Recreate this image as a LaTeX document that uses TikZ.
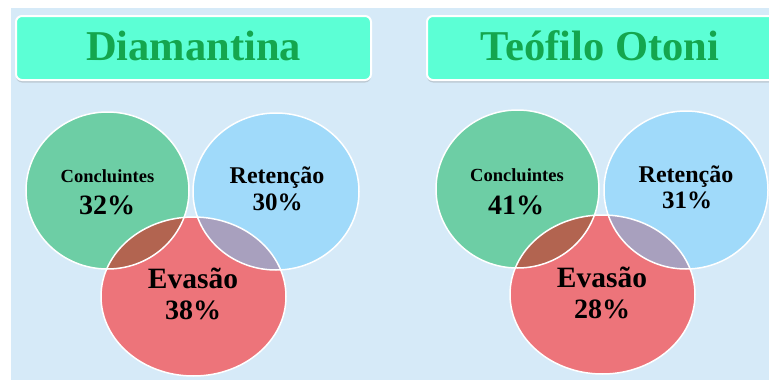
\documentclass[tikz,border=0pt]{standalone}
\usepackage{fontspec}
\setmainfont{Liberation Serif}
\usetikzlibrary{shadows}

\definecolor{pagebg}{RGB}{214,234,248}
\definecolor{titlefill}{RGB}{92,255,213}
\definecolor{titlegreen}{RGB}{20,166,78}
\definecolor{concgreen}{RGB}{109,206,165}
\definecolor{retblue}{RGB}{160,218,250}
\definecolor{evared}{RGB}{237,116,122}
\definecolor{lensbrown}{RGB}{178,100,80}
\definecolor{lenspurple}{RGB}{168,160,190}

\tikzset{
  titlebox/.style={draw=white, line width=2pt, fill=titlefill, rounded corners=6,
    drop shadow={shadow xshift=0pt, shadow yshift=-2.5pt, opacity=0.3}},
  titletext/.style={text=titlegreen, anchor=base, inner sep=0pt,
    font=\fontsize{42.5}{46}\selectfont\bfseries},
  ring/.style={draw=white, line width=1.5pt},
  conclab/.style={anchor=base, inner sep=0pt, font=\fontsize{18.5}{21}\selectfont\bfseries},
  retlab/.style={anchor=base, inner sep=0pt, font=\fontsize{24}{27}\selectfont\bfseries},
  evalab/.style={anchor=base, inner sep=0pt, font=\fontsize{29.5}{33}\selectfont\bfseries},
  pctlab/.style={anchor=base, inner sep=0pt, font=\fontsize{28}{31}\selectfont\bfseries},
  retpct/.style={anchor=base, inner sep=0pt, font=\fontsize{25}{28}\selectfont\bfseries}
}

\begin{document}
\begin{tikzpicture}[x=1pt, y=-1pt]
\useasboundingbox (0,0) rectangle (769,380);
\clip (0,0) rectangle (769,380);
\fill[pagebg] (11,8) rectangle (769,380);

% title boxes
\draw[titlebox] (16,16) rectangle (371,80);
\node[titletext] (titleDia) at (193.5,60) {Diamantina};
\draw[titlebox] (427,16) rectangle (775,80);
\node[titletext] (titleTeo) at (600,60) {Teófilo Otoni};

% Diamantina circles
\fill[concgreen] (107.5,190.5) ellipse (81.5 and 78.5);
\fill[retblue] (276,191.5) ellipse (83 and 78.5);
\fill[evared] (193.5,296.5) ellipse (92.5 and 79.5);
\begin{scope}
  \clip (193.5,296.5) ellipse (92.5 and 79.5);
  \fill[lensbrown] (107.5,190.5) ellipse (81.5 and 78.5);
  \fill[lenspurple] (276,191.5) ellipse (83 and 78.5);
\end{scope}
\draw[ring] (107.5,190.5) ellipse (81.5 and 78.5);
\draw[ring] (276,191.5) ellipse (83 and 78.5);
\draw[ring] (193.5,296.5) ellipse (92.5 and 79.5);

\node[conclab] (concDia) at (107.5,182) {Concluintes};
\node[pctlab] (concDiaPct) at (107,214) {32\%};
\node[retlab] (retDia) at (277,183) {Retenção};
\node[retpct] (retDiaPct) at (277.5,210) {30\%};
\node[evalab] (evaDia) at (193,288) {Evasão};
\node[pctlab] (evaDiaPct) at (193,319) {38\%};

% Teofilo Otoni circles
\fill[concgreen] (517.5,189) ellipse (81.5 and 79);
\fill[retblue] (686,190) ellipse (82 and 79);
\fill[evared] (602.5,294.5) ellipse (92.5 and 79.5);
\begin{scope}
  \clip (602.5,294.5) ellipse (92.5 and 79.5);
  \fill[lensbrown] (517.5,189) ellipse (81.5 and 79);
  \fill[lenspurple] (686,190) ellipse (82 and 79);
\end{scope}
\draw[ring] (517.5,189) ellipse (81.5 and 79);
\draw[ring] (686,190) ellipse (82 and 79);
\draw[ring] (602.5,294.5) ellipse (92.5 and 79.5);

\node[conclab] (concTeo) at (517,181) {Concluintes};
\node[pctlab] (concTeoPct) at (516,214) {41\%};
\node[retlab] (retTeo) at (686,182) {Retenção};
\node[retpct] (retTeoPct) at (687,208) {31\%};
\node[evalab] (evaTeo) at (602,287) {Evasão};
\node[pctlab] (evaTeoPct) at (602,318) {28\%};

\end{tikzpicture}
\end{document}
